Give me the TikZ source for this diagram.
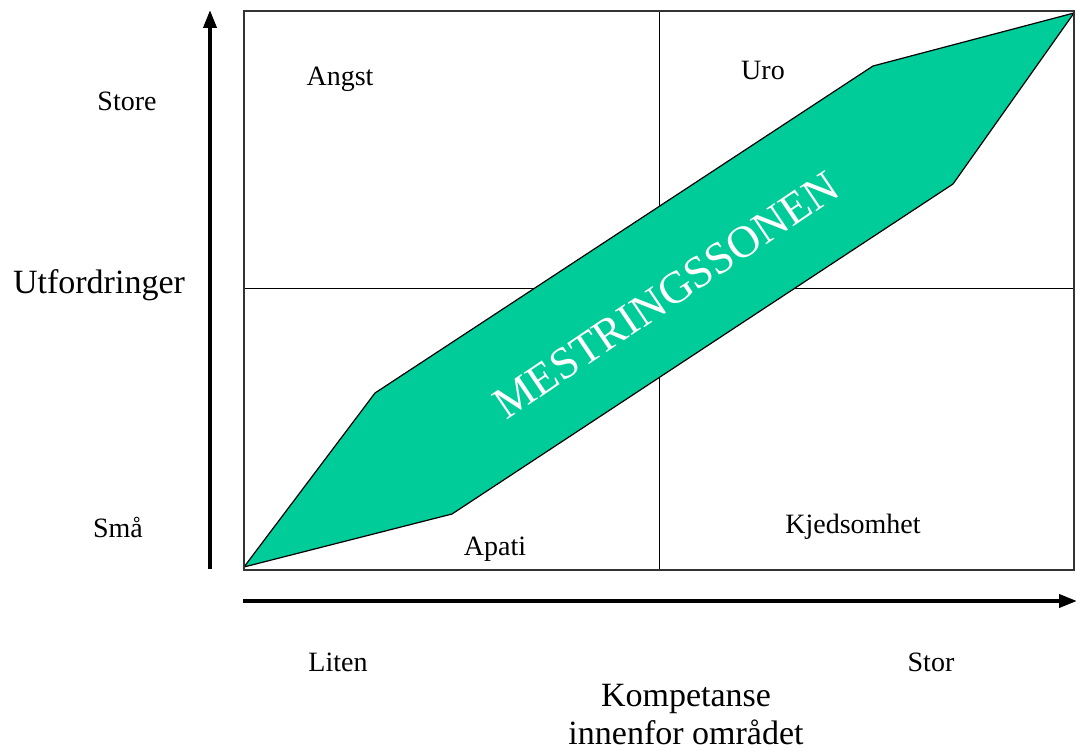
\documentclass[tikz,border=0pt]{standalone}
\usepackage{fontspec}
\usetikzlibrary{arrows.meta}
\setmainfont{Liberation Serif}
\begin{document}
\begin{tikzpicture}[x=1pt,y=-1pt,
  frame/.style={draw=black!80,line width=1.5pt},
  grid/.style={draw=black,line width=1pt},
  axis/.style={line width=3.8pt,-{Triangle[length=18pt,width=13pt]}},
  zone/.style={fill=zonegreen,draw=black,line width=1.2pt,line join=round},
  small/.style={font=\fontsize{28}{32}\selectfont},
  big/.style={font=\fontsize{34}{38}\selectfont,align=center}]
\definecolor{zonegreen}{RGB}{0,204,153}
\useasboundingbox (0,0) rectangle (1076,751);
% quadrant frame and midlines
\draw[grid] (659,11) -- (659,570);
\draw[grid] (244,289) -- (1074,289);
% zone band
\draw[zone] (244,567) -- (375,393) -- (873,66) -- (1074,13) -- (953,184) -- (452,514) -- cycle;
\draw[frame] (244,11) rectangle (1074,570);
% axes
\coordinate (ya) at (210,569);
\coordinate (yb) at (210,10);
\coordinate (xa) at (243,601);
\coordinate (xb) at (1077,601);
\draw[axis] (ya) -- (yb);
\draw[axis] (xa) -- (xb);
% labels
\node[small] (store) at (127,101) {Store};
\node[small] (sma) at (118,527) {Små};
\node[big] (utf) at (99,285) {Utfordringer};
\node[small] (angst) at (340,79) {Angst};
\node[small] (uro) at (763,70) {Uro};
\node[small] (apati) at (495,549) {Apati};
\node[small] (kjed) at (853,527) {Kjedsomhet};
\node[small] (liten) at (338,662) {Liten};
\node[small] (stor) at (931,662) {Stor};
\node[big,inner sep=0pt] (komp) at (686,715) {Kompetanse\\innenfor området};
\node[text=white,font=\fontsize{45}{50}\selectfont,rotate=34] (zone) at (666,295) {MESTRINGSSONEN};
\end{tikzpicture}
\end{document}
